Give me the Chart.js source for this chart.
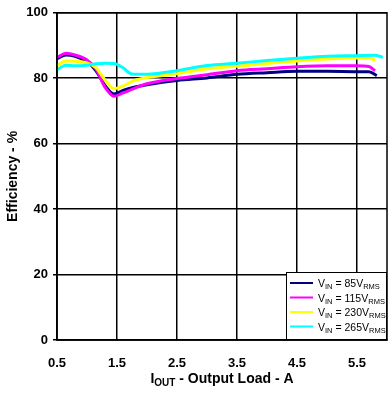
<!DOCTYPE html>
<html>
<head>
<meta charset="utf-8">
<script src="https://cdn.jsdelivr.net/npm/chart.js@4"></script>
<style>
html, body { margin: 0; padding: 0; background: #fff; }
</style>
</head>
<body>
<canvas id="effChart" width="388" height="394"></canvas>
<script>
const xTicks = [0.5, 1.5, 2.5, 3.5, 4.5, 5.5];
const yTicks = [0, 20, 40, 60, 80, 100];

const load85 = [0.5, 0.65, 0.8, 1.0, 1.15, 1.3, 1.45, 1.6, 1.8, 2.0, 2.5, 3.0, 3.5, 4.0, 4.5, 5.0, 5.5, 5.7, 5.83];
const eff85 = [86.0, 87.1, 86.7, 85.0, 82.3, 77.8, 75.2, 76.3, 77.3, 78.0, 79.3, 80.1, 81.2, 81.7, 82.1, 82.1, 82.0, 82.0, 80.8];

const load115 = [0.5, 0.65, 0.8, 1.0, 1.15, 1.3, 1.45, 1.6, 1.8, 2.0, 2.5, 3.0, 3.5, 4.0, 4.5, 5.0, 5.5, 5.7, 5.8];
const eff115 = [86.4, 87.6, 87.1, 85.6, 82.8, 77.3, 74.5, 75.5, 77.0, 78.3, 79.9, 81.1, 82.3, 82.9, 83.5, 83.8, 83.8, 83.6, 82.3];

const load230 = [0.5, 0.65, 0.8, 1.0, 1.15, 1.3, 1.45, 1.6, 1.8, 2.0, 2.5, 3.0, 3.5, 4.0, 4.5, 5.0, 5.5, 5.7, 5.8];
const eff230 = [83.8, 85.3, 85.2, 84.7, 83.2, 79.5, 76.8, 77.6, 79.4, 80.2, 81.4, 82.9, 83.7, 84.5, 85.3, 85.9, 86.2, 86.1, 85.6];

const load265 = [0.5, 0.65, 0.8, 1.0, 1.15, 1.3, 1.45, 1.6, 1.75, 2.0, 2.5, 3.0, 3.5, 4.0, 4.5, 5.0, 5.5, 5.8, 5.93];
const eff265 = [82.6, 84.0, 83.8, 84.0, 84.4, 84.6, 84.5, 83.2, 81.3, 81.2, 82.3, 83.9, 84.6, 85.4, 86.1, 86.7, 86.9, 87.0, 86.4];

const seriesVolts = ['85', '115', '230', '265'];
const seriesColors = ['#000080', '#ff00ff', '#ffff00', '#00ffff'];

const FONT = '"Liberation Sans", Arial, sans-serif';

function pts(xs, ys) {
    return xs.map((x, i) => ({ x: x, y: ys[i] }));
}

const loads = [load85, load115, load230, load265];
const effs = [eff85, eff115, eff230, eff265];

const datasets = seriesVolts.map((v, i) => ({
    label: 'VIN = ' + v + 'VRMS',
    data: pts(loads[i], effs[i]),
    borderColor: seriesColors[i],
    borderWidth: 3,
    pointRadius: 0,
    fill: false,
    cubicInterpolationMode: 'monotone',
})).reverse();

// draws text runs, some as subscripts
function richText(ctx, parts, x, y, align) {
    let total = 0;
    parts.forEach(p => {
        ctx.font = p.font;
        p.w = ctx.measureText(p.t).width;
        total += p.w;
    });
    let cx = align === 'center' ? x - total / 2 : x;
    parts.forEach(p => {
        ctx.font = p.font;
        ctx.fillText(p.t, cx, y + (p.dy || 0));
        cx += p.w;
    });
}

const extras = {
    id: 'extras',
    afterDraw(chart) {
        const { ctx, chartArea: a } = chart;
        ctx.save();
        ctx.strokeStyle = '#000';
        ctx.lineWidth = 1.5;
        ctx.strokeRect(a.left, a.top, a.right - a.left, a.bottom - a.top);

        ctx.fillStyle = '#000';
        ctx.textBaseline = 'alphabetic';
        ctx.textAlign = 'left';

        // x title
        richText(ctx, [
            { t: 'I', font: 'bold 14px ' + FONT },
            { t: 'OUT', font: 'bold 10px ' + FONT, dy: 3 },
            { t: ' - Output Load - A', font: 'bold 14px ' + FONT },
        ], (a.left + a.right) / 2, 383, 'center');

        // y title
        ctx.save();
        ctx.translate(17, (a.top + a.bottom) / 2);
        ctx.rotate(-Math.PI / 2);
        ctx.textAlign = 'center';
        ctx.font = 'bold 14px ' + FONT;
        ctx.fillText('Efficiency - %', 0, 0);
        ctx.restore();

        // legend
        const bx = 286, by = 272;
        ctx.fillStyle = '#fff';
        ctx.fillRect(bx, by, a.right - bx, a.bottom - by);
        ctx.strokeStyle = '#000';
        ctx.lineWidth = 1;
        ctx.strokeRect(bx + 0.5, by + 0.5, a.right - bx - 1, a.bottom - by - 1);
        seriesVolts.forEach((v, i) => {
            const ry = 283 + i * 14.5;
            ctx.strokeStyle = seriesColors[i];
            ctx.lineWidth = 2;
            ctx.beginPath();
            ctx.moveTo(290, ry);
            ctx.lineTo(313, ry);
            ctx.stroke();
            ctx.fillStyle = '#000';
            richText(ctx, [
                { t: 'V', font: '10.5px ' + FONT },
                { t: 'IN', font: '7.5px ' + FONT, dy: 2 },
                { t: ' = ' + v + 'V', font: '10.5px ' + FONT },
                { t: 'RMS', font: '7.5px ' + FONT, dy: 2 },
            ], 318, ry + 4, 'left');
        });
        ctx.restore();
    }
};

new Chart(document.getElementById('effChart'), {
    type: 'line',
    data: { datasets: datasets },
    plugins: [extras],
    options: {
        responsive: false,
        animation: false,
        devicePixelRatio: 1,
        layout: { padding: { top: 10, right: 1, left: 0, bottom: 0 } },
        plugins: {
            legend: { display: false },
            tooltip: { enabled: false },
        },
        scales: {
            x: {
                type: 'linear',
                min: 0.5,
                max: 6,
                afterBuildTicks: s => { s.ticks = xTicks.map(v => ({ value: v })); },
                afterFit: s => { s.height = 54; },
                ticks: {
                    color: '#000',
                    font: { family: FONT, size: 13, weight: 'bold' },
                    padding: 16,
                    autoSkip: false,
                    maxRotation: 0,
                    callback: v => v.toFixed(1),
                },
                grid: { color: '#000', lineWidth: 1.5, drawTicks: false },
                border: { color: '#000', width: 1.5 },
            },
            y: {
                min: 0,
                max: 100,
                afterBuildTicks: s => { s.ticks = yTicks.map(v => ({ value: v })); },
                afterFit: s => { s.width = 57; },
                ticks: {
                    color: '#000',
                    font: { family: FONT, size: 13, weight: 'bold' },
                    padding: 5,
                },
                grid: { color: '#000', lineWidth: 1.5, tickLength: 4 },
                border: { color: '#000', width: 1.5 },
            },
        },
    },
});
</script>
</body>
</html>
